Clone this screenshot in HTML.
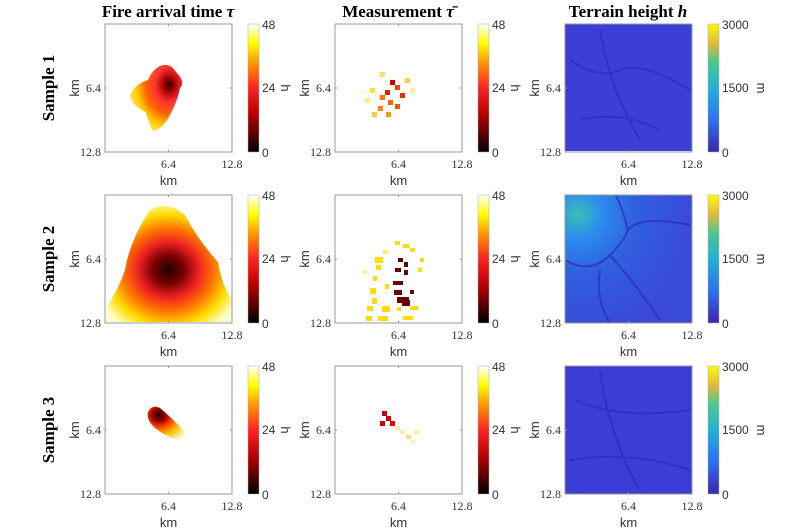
<!DOCTYPE html>
<html><head><meta charset="utf-8"><style>
body{margin:0;background:#fff;width:800px;height:530px;overflow:hidden}
svg{display:block}
.t{font-family:"Liberation Serif",serif;font-weight:bold;font-size:17px}
.tk{font-family:"Liberation Serif",serif;font-size:12px;fill:#333}
.km{font-family:"Liberation Sans",sans-serif;font-size:13px;fill:#333}
.cb{font-family:"Liberation Sans",sans-serif;font-size:12px;fill:#333}
.ax{fill:none;stroke:#999;stroke-width:1}
.tl{stroke:#999;stroke-width:1}
</style></head><body>
<svg width="800" height="530" viewBox="0 0 800 530">
<defs>
<linearGradient id="hot" x1="0" y1="1" x2="0" y2="0">
<stop offset="0" stop-color="#000"/><stop offset="0.3" stop-color="#b00"/><stop offset="0.5" stop-color="#f22"/><stop offset="0.7" stop-color="#f90"/><stop offset="0.85" stop-color="#ff0"/><stop offset="1" stop-color="#fff"/>
</linearGradient>
<linearGradient id="par" x1="0" y1="1" x2="0" y2="0">
<stop offset="0" stop-color="#3e26a8"/><stop offset="0.25" stop-color="#2f6ef5"/><stop offset="0.5" stop-color="#1fb3d4"/><stop offset="0.7" stop-color="#4cc78e"/><stop offset="0.85" stop-color="#e0b93a"/><stop offset="1" stop-color="#f9fb0e"/>
</linearGradient>
<radialGradient id="f1" cx="0.75" cy="0.3" r="0.9">
<stop offset="0" stop-color="#200"/><stop offset="0.12" stop-color="#a00"/><stop offset="0.3" stop-color="#f33"/><stop offset="0.5" stop-color="#f60"/><stop offset="0.7" stop-color="#fc0"/><stop offset="1" stop-color="#ffa"/>
</radialGradient>
<radialGradient id="f2" cx="0.5" cy="0.55" r="0.6">
<stop offset="0" stop-color="#200"/><stop offset="0.2" stop-color="#700"/><stop offset="0.4" stop-color="#e22"/><stop offset="0.6" stop-color="#f70"/><stop offset="0.8" stop-color="#fd0"/><stop offset="1" stop-color="#ffc"/>
</radialGradient>
<radialGradient id="f3" cx="0.3" cy="0.25" r="0.9">
<stop offset="0" stop-color="#200"/><stop offset="0.2" stop-color="#900"/><stop offset="0.4" stop-color="#f40"/><stop offset="0.65" stop-color="#fb0"/><stop offset="1" stop-color="#ffd"/>
</radialGradient>
<radialGradient id="tr2" cx="0.1" cy="0.15" r="0.9">
<stop offset="0" stop-color="#3bbfb0"/><stop offset="0.2" stop-color="#2c8fee"/><stop offset="0.5" stop-color="#3060e0"/><stop offset="1" stop-color="#3a4ad8"/>
</radialGradient>
</defs>

<text class="t" x="168" y="17" text-anchor="middle">Fire arrival time <tspan font-style="italic">τ</tspan></text>
<text class="t" x="398" y="17" text-anchor="middle">Measurement <tspan font-style="italic">τ̄</tspan></text>
<text class="t" x="628" y="17" text-anchor="middle">Terrain height <tspan font-style="italic">h</tspan></text>
<text class="t" transform="translate(54,88) rotate(-90)" text-anchor="middle">Sample 1</text>
<text class="t" transform="translate(54,259) rotate(-90)" text-anchor="middle">Sample 2</text>
<text class="t" transform="translate(54,430) rotate(-90)" text-anchor="middle">Sample 3</text>

<path d="M160,66 Q170,62 176,72 Q186,82 180,88 Q178,100 170,115 Q162,130 153,131 Q148,122 146,112 Q132,106 130,96 Q134,84 148,80 Q152,70 160,66 Z" fill="url(#f1)"/>
<path d="M150,210 Q168,200 185,215 Q198,240 218,262 Q222,285 232,300 L232,322 L105,322 L108,305 Q118,290 125,270 Q130,240 150,210 Z" fill="url(#f2)"/>
<path d="M148,412 Q152,404 160,408 Q172,418 185,432 Q186,442 178,440 Q165,436 155,428 Q146,420 148,412 Z" fill="url(#f3)"/>

<g>
<rect x="390" y="80" width="5" height="5" fill="#c00"/><rect x="395" y="85" width="5" height="5" fill="#e40"/><rect x="385" y="90" width="5" height="5" fill="#d20"/><rect x="380" y="95" width="5" height="5" fill="#f70"/><rect x="400" y="93" width="5" height="5" fill="#d30"/><rect x="388" y="100" width="5" height="5" fill="#e60"/><rect x="378" y="106" width="5" height="5" fill="#f80"/><rect x="395" y="104" width="5" height="5" fill="#e50"/><rect x="370" y="88" width="5" height="5" fill="#fd4"/><rect x="365" y="98" width="5" height="5" fill="#fe8"/><rect x="405" y="78" width="5" height="5" fill="#fc4"/><rect x="380" y="72" width="5" height="5" fill="#fd6"/><rect x="372" y="112" width="5" height="5" fill="#fc3"/><rect x="386" y="112" width="5" height="5" fill="#f90"/><rect x="360" y="90" width="5" height="5" fill="#ffc"/><rect x="410" y="88" width="5" height="5" fill="#fe9"/>
</g>
<g fill="#fd0">
<rect x="395" y="241" width="5" height="4"/><rect x="403" y="244" width="6" height="4"/><rect x="410" y="248" width="5" height="4"/><rect x="375" y="257" width="8" height="6"/><rect x="376" y="265" width="5" height="5"/><rect x="420" y="258" width="4" height="4"/><rect x="418" y="268" width="4" height="4"/><rect x="373" y="276" width="4" height="5"/><rect x="370" y="288" width="6" height="6"/><rect x="372" y="298" width="5" height="6"/><rect x="367" y="306" width="6" height="5"/><rect x="382" y="306" width="8" height="6"/><rect x="366" y="316" width="6" height="5"/><rect x="378" y="316" width="10" height="5"/><rect x="410" y="306" width="8" height="4"/><rect x="397" y="307" width="4" height="4"/><rect x="385" y="284" width="4" height="5"/><rect x="383" y="250" width="5" height="4" fill="#fe6"/><rect x="403" y="316" width="10" height="4"/><rect x="363" y="270" width="4" height="4" fill="#fe8"/>
</g>
<g fill="#6a0008">
<rect x="398" y="258" width="5" height="4"/><rect x="404" y="262" width="4" height="5"/><rect x="395" y="268" width="6" height="4"/><rect x="404" y="270" width="4" height="5"/><rect x="393" y="281" width="10" height="4"/><rect x="394" y="290" width="8" height="5"/><rect x="397" y="297" width="12" height="6"/><rect x="410" y="290" width="4" height="4"/><rect x="402" y="300" width="8" height="6"/>
</g>
<g>
<rect x="382" y="411" width="5" height="5" fill="#c00"/><rect x="386" y="416" width="5" height="5" fill="#c00"/><rect x="380" y="421" width="5" height="5" fill="#c00"/><rect x="390" y="421" width="5" height="5" fill="#d00"/><rect x="395" y="426" width="5" height="4" fill="#fea"/><rect x="400" y="430" width="5" height="4" fill="#fea"/><rect x="406" y="435" width="5" height="4" fill="#fd8"/><rect x="410" y="440" width="5" height="4" fill="#fec"/><rect x="414" y="430" width="5" height="4" fill="#fe9"/>
</g>

<rect x="565" y="24" width="127" height="127" fill="#3b3fd6"/>
<rect x="565" y="195" width="127" height="128" fill="url(#tr2)"/>
<rect x="565" y="366" width="127" height="128" fill="#3b3dd4"/>
<g stroke="#2e2cb8" stroke-width="2" fill="none" opacity="0.7">
<path d="M570,60 Q600,80 620,70 T690,90 M600,30 Q610,90 640,140 M580,120 Q620,110 660,130"/>
<path d="M565,260 Q590,275 610,255 Q625,240 628,230 Q640,215 690,225 M628,230 Q620,200 615,195 M610,255 Q640,290 660,320 M600,270 Q595,300 610,323"/>
<path d="M575,400 Q620,420 690,410 M600,370 Q610,440 640,490 M570,460 Q630,450 690,470"/>
</g>

<g transform="translate(105,24)">
<rect class="ax" width="127" height="128"/>
<line class="tl" x1="63.5" y1="128" x2="63.5" y2="126"/><line class="tl" x1="63.5" y1="0" x2="63.5" y2="2"/><line class="tl" x1="0" y1="64" x2="2" y2="64"/><line class="tl" x1="127" y1="64" x2="125" y2="64"/>
<text class="tk" x="-4" y="68" text-anchor="end">6.4</text><text class="tk" x="-4" y="132" text-anchor="end">12.8</text>
<text class="tk" x="63.5" y="144" text-anchor="middle">6.4</text><text class="tk" x="127" y="144" text-anchor="middle">12.8</text>
<text class="km" x="63.5" y="161" text-anchor="middle">km</text><text class="km" transform="translate(-26,64) rotate(-90)" text-anchor="middle">km</text>
<rect x="143" width="11" height="128" fill="url(#hot)" stroke="#aaa" stroke-width="0.5"/>
<text class="cb" x="157" y="5">48</text><text class="cb" x="157" y="68">24</text><text class="cb" x="157" y="133">0</text>
<text class="km" transform="translate(176,64) rotate(90)" text-anchor="middle">h</text>
</g>
<g transform="translate(335,24)">
<rect class="ax" width="127" height="128"/>
<line class="tl" x1="63.5" y1="128" x2="63.5" y2="126"/><line class="tl" x1="63.5" y1="0" x2="63.5" y2="2"/><line class="tl" x1="0" y1="64" x2="2" y2="64"/><line class="tl" x1="127" y1="64" x2="125" y2="64"/>
<text class="tk" x="-4" y="68" text-anchor="end">6.4</text><text class="tk" x="-4" y="132" text-anchor="end">12.8</text>
<text class="tk" x="63.5" y="144" text-anchor="middle">6.4</text><text class="tk" x="127" y="144" text-anchor="middle">12.8</text>
<text class="km" x="63.5" y="161" text-anchor="middle">km</text><text class="km" transform="translate(-26,64) rotate(-90)" text-anchor="middle">km</text>
<rect x="143" width="11" height="128" fill="url(#hot)" stroke="#aaa" stroke-width="0.5"/>
<text class="cb" x="157" y="5">48</text><text class="cb" x="157" y="68">24</text><text class="cb" x="157" y="133">0</text>
<text class="km" transform="translate(176,64) rotate(90)" text-anchor="middle">h</text>
</g>
<g transform="translate(565,24)">
<rect class="ax" width="127" height="128"/>
<line class="tl" x1="63.5" y1="128" x2="63.5" y2="126"/><line class="tl" x1="0" y1="64" x2="2" y2="64"/>
<text class="tk" x="-4" y="68" text-anchor="end">6.4</text><text class="tk" x="-4" y="132" text-anchor="end">12.8</text>
<text class="tk" x="63.5" y="144" text-anchor="middle">6.4</text><text class="tk" x="127" y="144" text-anchor="middle">12.8</text>
<text class="km" x="63.5" y="161" text-anchor="middle">km</text><text class="km" transform="translate(-26,64) rotate(-90)" text-anchor="middle">km</text>
<rect x="143" width="11" height="128" fill="url(#par)" stroke="#aaa" stroke-width="0.5"/>
<text class="cb" x="157" y="5">3000</text><text class="cb" x="157" y="68">1500</text><text class="cb" x="157" y="133">0</text>
<text class="km" transform="translate(192,64) rotate(90)" text-anchor="middle">m</text>
</g>

<g transform="translate(105,195)">
<rect class="ax" width="127" height="128"/>
<line class="tl" x1="63.5" y1="128" x2="63.5" y2="126"/><line class="tl" x1="63.5" y1="0" x2="63.5" y2="2"/><line class="tl" x1="0" y1="64" x2="2" y2="64"/><line class="tl" x1="127" y1="64" x2="125" y2="64"/>
<text class="tk" x="-4" y="68" text-anchor="end">6.4</text><text class="tk" x="-4" y="132" text-anchor="end">12.8</text>
<text class="tk" x="63.5" y="144" text-anchor="middle">6.4</text><text class="tk" x="127" y="144" text-anchor="middle">12.8</text>
<text class="km" x="63.5" y="161" text-anchor="middle">km</text><text class="km" transform="translate(-26,64) rotate(-90)" text-anchor="middle">km</text>
<rect x="143" width="11" height="128" fill="url(#hot)" stroke="#aaa" stroke-width="0.5"/>
<text class="cb" x="157" y="5">48</text><text class="cb" x="157" y="68">24</text><text class="cb" x="157" y="133">0</text>
<text class="km" transform="translate(176,64) rotate(90)" text-anchor="middle">h</text>
</g>
<g transform="translate(335,195)">
<rect class="ax" width="127" height="128"/>
<line class="tl" x1="63.5" y1="128" x2="63.5" y2="126"/><line class="tl" x1="63.5" y1="0" x2="63.5" y2="2"/><line class="tl" x1="0" y1="64" x2="2" y2="64"/><line class="tl" x1="127" y1="64" x2="125" y2="64"/>
<text class="tk" x="-4" y="68" text-anchor="end">6.4</text><text class="tk" x="-4" y="132" text-anchor="end">12.8</text>
<text class="tk" x="63.5" y="144" text-anchor="middle">6.4</text><text class="tk" x="127" y="144" text-anchor="middle">12.8</text>
<text class="km" x="63.5" y="161" text-anchor="middle">km</text><text class="km" transform="translate(-26,64) rotate(-90)" text-anchor="middle">km</text>
<rect x="143" width="11" height="128" fill="url(#hot)" stroke="#aaa" stroke-width="0.5"/>
<text class="cb" x="157" y="5">48</text><text class="cb" x="157" y="68">24</text><text class="cb" x="157" y="133">0</text>
<text class="km" transform="translate(176,64) rotate(90)" text-anchor="middle">h</text>
</g>
<g transform="translate(565,195)">
<rect class="ax" width="127" height="128"/>
<line class="tl" x1="63.5" y1="128" x2="63.5" y2="126"/><line class="tl" x1="0" y1="64" x2="2" y2="64"/>
<text class="tk" x="-4" y="68" text-anchor="end">6.4</text><text class="tk" x="-4" y="132" text-anchor="end">12.8</text>
<text class="tk" x="63.5" y="144" text-anchor="middle">6.4</text><text class="tk" x="127" y="144" text-anchor="middle">12.8</text>
<text class="km" x="63.5" y="161" text-anchor="middle">km</text><text class="km" transform="translate(-26,64) rotate(-90)" text-anchor="middle">km</text>
<rect x="143" width="11" height="128" fill="url(#par)" stroke="#aaa" stroke-width="0.5"/>
<text class="cb" x="157" y="5">3000</text><text class="cb" x="157" y="68">1500</text><text class="cb" x="157" y="133">0</text>
<text class="km" transform="translate(192,64) rotate(90)" text-anchor="middle">m</text>
</g>

<g transform="translate(105,366)">
<rect class="ax" width="127" height="128"/>
<line class="tl" x1="63.5" y1="128" x2="63.5" y2="126"/><line class="tl" x1="63.5" y1="0" x2="63.5" y2="2"/><line class="tl" x1="0" y1="64" x2="2" y2="64"/><line class="tl" x1="127" y1="64" x2="125" y2="64"/>
<text class="tk" x="-4" y="68" text-anchor="end">6.4</text><text class="tk" x="-4" y="132" text-anchor="end">12.8</text>
<text class="tk" x="63.5" y="144" text-anchor="middle">6.4</text><text class="tk" x="127" y="144" text-anchor="middle">12.8</text>
<text class="km" x="63.5" y="161" text-anchor="middle">km</text><text class="km" transform="translate(-26,64) rotate(-90)" text-anchor="middle">km</text>
<rect x="143" width="11" height="128" fill="url(#hot)" stroke="#aaa" stroke-width="0.5"/>
<text class="cb" x="157" y="5">48</text><text class="cb" x="157" y="68">24</text><text class="cb" x="157" y="133">0</text>
<text class="km" transform="translate(176,64) rotate(90)" text-anchor="middle">h</text>
</g>
<g transform="translate(335,366)">
<rect class="ax" width="127" height="128"/>
<line class="tl" x1="63.5" y1="128" x2="63.5" y2="126"/><line class="tl" x1="63.5" y1="0" x2="63.5" y2="2"/><line class="tl" x1="0" y1="64" x2="2" y2="64"/><line class="tl" x1="127" y1="64" x2="125" y2="64"/>
<text class="tk" x="-4" y="68" text-anchor="end">6.4</text><text class="tk" x="-4" y="132" text-anchor="end">12.8</text>
<text class="tk" x="63.5" y="144" text-anchor="middle">6.4</text><text class="tk" x="127" y="144" text-anchor="middle">12.8</text>
<text class="km" x="63.5" y="161" text-anchor="middle">km</text><text class="km" transform="translate(-26,64) rotate(-90)" text-anchor="middle">km</text>
<rect x="143" width="11" height="128" fill="url(#hot)" stroke="#aaa" stroke-width="0.5"/>
<text class="cb" x="157" y="5">48</text><text class="cb" x="157" y="68">24</text><text class="cb" x="157" y="133">0</text>
<text class="km" transform="translate(176,64) rotate(90)" text-anchor="middle">h</text>
</g>
<g transform="translate(565,366)">
<rect class="ax" width="127" height="128"/>
<line class="tl" x1="63.5" y1="128" x2="63.5" y2="126"/><line class="tl" x1="0" y1="64" x2="2" y2="64"/>
<text class="tk" x="-4" y="68" text-anchor="end">6.4</text><text class="tk" x="-4" y="132" text-anchor="end">12.8</text>
<text class="tk" x="63.5" y="144" text-anchor="middle">6.4</text><text class="tk" x="127" y="144" text-anchor="middle">12.8</text>
<text class="km" x="63.5" y="161" text-anchor="middle">km</text><text class="km" transform="translate(-26,64) rotate(-90)" text-anchor="middle">km</text>
<rect x="143" width="11" height="128" fill="url(#par)" stroke="#aaa" stroke-width="0.5"/>
<text class="cb" x="157" y="5">3000</text><text class="cb" x="157" y="68">1500</text><text class="cb" x="157" y="133">0</text>
<text class="km" transform="translate(192,64) rotate(90)" text-anchor="middle">m</text>
</g>
</svg>
</body></html>
